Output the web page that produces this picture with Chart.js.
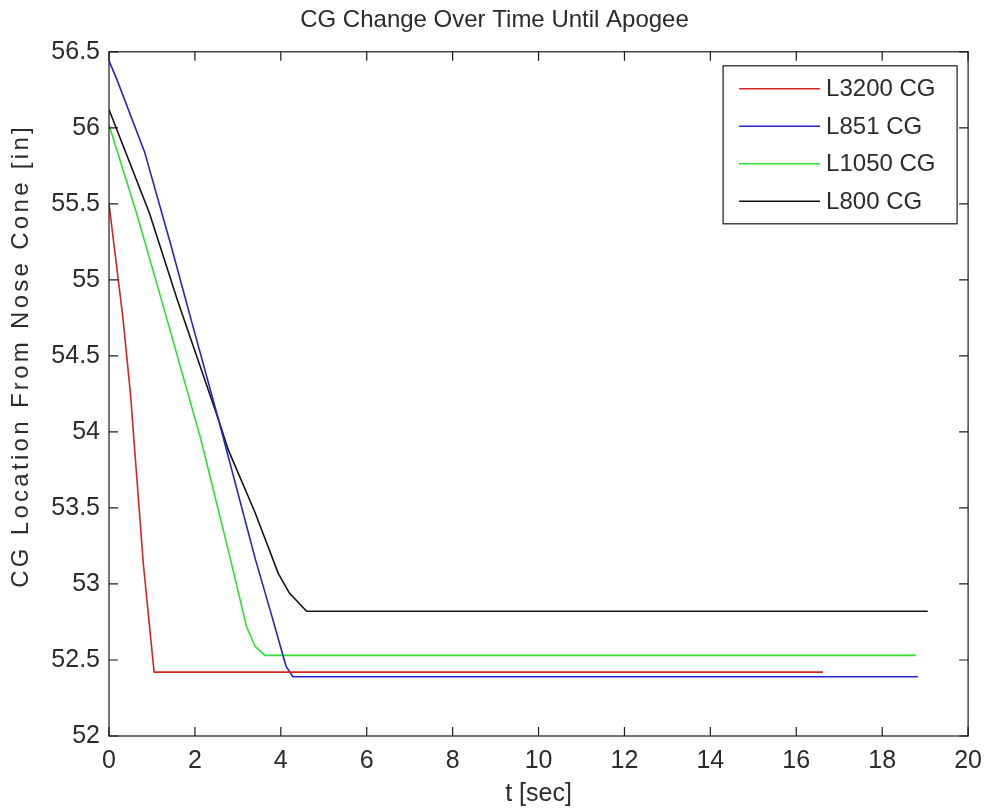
<!DOCTYPE html>
<html>
<head>
<meta charset="utf-8">
<script src="https://cdn.jsdelivr.net/npm/chart.js@4"></script>
<style>
  html, body { margin: 0; padding: 0; background: #fff; }
  #wrap { width: 992px; height: 810px; position: relative; }
</style>
</head>
<body>
<div id="wrap"><canvas id="cg-chart"></canvas></div>
<script>
// values
const seriesNames = ['L3200 CG', 'L851 CG', 'L1050 CG', 'L800 CG'];
const seriesColors = ['rgb(215, 35, 35)', 'rgb(35, 35, 210)', 'rgb(45, 225, 45)', 'rgb(20, 20, 20)'];

const tL3200 = [0, 0.32, 0.5, 0.8, 1.05, 16.62];
const cgL3200 = [55.5, 54.76, 54.25, 53.13, 52.42, 52.42];

const tL851 = [0, 0.18, 0.83, 1.45, 1.91, 2.55, 3.41, 3.78, 4.12, 4.28, 18.83];
const cgL851 = [56.44, 56.32, 55.84, 55.22, 54.74, 54.08, 53.16, 52.80, 52.46, 52.39, 52.39];

const tL1050 = [0, 0.64, 1.22, 2.14, 2.83, 3.2, 3.4, 3.63, 18.78];
const cgL1050 = [56.02, 55.44, 54.87, 53.95, 53.16, 52.72, 52.59, 52.53, 52.53];

const tL800 = [0, 0.94, 1.59, 2.55, 2.78, 3.4, 3.94, 4.2, 4.6, 19.06];
const cgL800 = [56.12, 55.44, 54.87, 54.08, 53.88, 53.47, 53.07, 52.94, 52.82, 52.82];

const xTicks = [0, 2, 4, 6, 8, 10, 12, 14, 16, 18, 20];
const yTicks = [52, 52.5, 53, 53.5, 54, 54.5, 55, 55.5, 56, 56.5];
const yTitle = 'CG Location From Nose Cone [in]';

const times = [tL3200, tL851, tL1050, tL800];
const values = [cgL3200, cgL851, cgL1050, cgL800];

const FONT = "'Liberation Sans', Arial, sans-serif";
const TEXT = '#2b2b2b';

// box round the plot with inward ticks on every side
const framePlugin = {
  id: 'frame',
  afterDatasetsDraw(chart) {
    const { ctx, chartArea: a, scales: { x, y } } = chart;
    const len = 9;
    ctx.save();
    ctx.strokeStyle = '#1a1a1a';
    ctx.lineWidth = 1.2;
    ctx.strokeRect(a.left, a.top, a.right - a.left, a.bottom - a.top);
    ctx.beginPath();
    x.ticks.forEach(t => {
      const px = x.getPixelForValue(t.value);
      ctx.moveTo(px, a.bottom); ctx.lineTo(px, a.bottom - len);
      ctx.moveTo(px, a.top); ctx.lineTo(px, a.top + len);
    });
    y.ticks.forEach(t => {
      const py = y.getPixelForValue(t.value);
      ctx.moveTo(a.left, py); ctx.lineTo(a.left + len, py);
      ctx.moveTo(a.right, py); ctx.lineTo(a.right - len, py);
    });
    ctx.stroke();

    // y title, spaced out and sitting a bit high like the matlab one
    ctx.translate(21, (a.top + a.bottom) / 2 - 38);
    ctx.rotate(-Math.PI / 2);
    ctx.font = '24px ' + FONT;
    ctx.letterSpacing = '3.3px';
    ctx.fillStyle = TEXT;
    ctx.textAlign = 'center';
    ctx.textBaseline = 'middle';
    ctx.fillText(yTitle, 0, 0);
    ctx.restore();
  }
};

// legend box in the top right corner, like the original
const boxLegend = {
  id: 'boxLegend',
  afterDraw(chart) {
    const { ctx, chartArea: a } = chart;
    const right = a.right - 11, top = a.top + 14;
    const w = 234, h = 158, rowH = 37.5;
    const left = right - w;
    ctx.save();
    ctx.fillStyle = '#fff';
    ctx.fillRect(left, top, w, h);
    ctx.strokeStyle = '#1a1a1a';
    ctx.lineWidth = 1.2;
    ctx.strokeRect(left, top, w, h);
    ctx.font = '24px ' + FONT;
    ctx.textBaseline = 'middle';
    chart.data.datasets.forEach((ds, i) => {
      const cy = top + 23 + i * rowH;
      ctx.strokeStyle = ds.borderColor;
      ctx.lineWidth = 1.5;
      ctx.beginPath();
      ctx.moveTo(left + 16, cy);
      ctx.lineTo(left + 97, cy);
      ctx.stroke();
      ctx.fillStyle = TEXT;
      ctx.fillText(ds.label, left + 103, cy + 1);
    });
    ctx.restore();
  }
};

const ctx = document.getElementById('cg-chart');

new Chart(ctx, {
  type: 'scatter',
  data: {
    datasets: seriesNames.map((name, i) => ({
      label: name,
      data: times[i].map((t, j) => ({ x: t, y: values[i][j] })),
      showLine: true,
      borderColor: seriesColors[i],
      backgroundColor: seriesColors[i],
      borderWidth: 1.6,
      pointRadius: 0,
      tension: 0
    }))
  },
  options: {
    responsive: true,
    maintainAspectRatio: false,
    animation: false,
    layout: { padding: { left: 0, right: 3, top: 0, bottom: 0 } },
    plugins: {
      legend: { display: false },
      tooltip: { enabled: false },
      title: {
        display: true,
        text: 'CG Change Over Time Until Apogee',
        color: TEXT,
        font: { size: 24, family: FONT, weight: 'normal', lineHeight: 1.2 },
        padding: { top: 6, bottom: 17 }
      }
    },
    scales: {
      x: {
        type: 'linear',
        min: 0,
        max: 20,
        afterBuildTicks: s => { s.ticks = xTicks.map(v => ({ value: v })); },
        afterFit: s => { s.height = 74; },
        grid: { display: false, drawTicks: false },
        border: { display: false },
        ticks: {
          color: TEXT,
          padding: 10,
          maxRotation: 0,
          font: { size: 25, family: FONT }
        },
        title: {
          display: true,
          text: 't [sec]',
          color: TEXT,
          font: { size: 25, family: FONT },
          padding: { top: 0, bottom: 1 }
        }
      },
      y: {
        type: 'linear',
        min: 52,
        max: 56.5,
        afterBuildTicks: s => { s.ticks = yTicks.map(v => ({ value: v })); },
        afterFit: s => { s.width = 109; },
        grid: { display: false, drawTicks: false },
        border: { display: false },
        ticks: {
          color: TEXT,
          padding: 9,
          font: { size: 25, family: FONT },
          callback: v => String(v)
        },
        title: { display: false }
      }
    }
  },
  plugins: [framePlugin, boxLegend]
});
</script>
</body>
</html>
